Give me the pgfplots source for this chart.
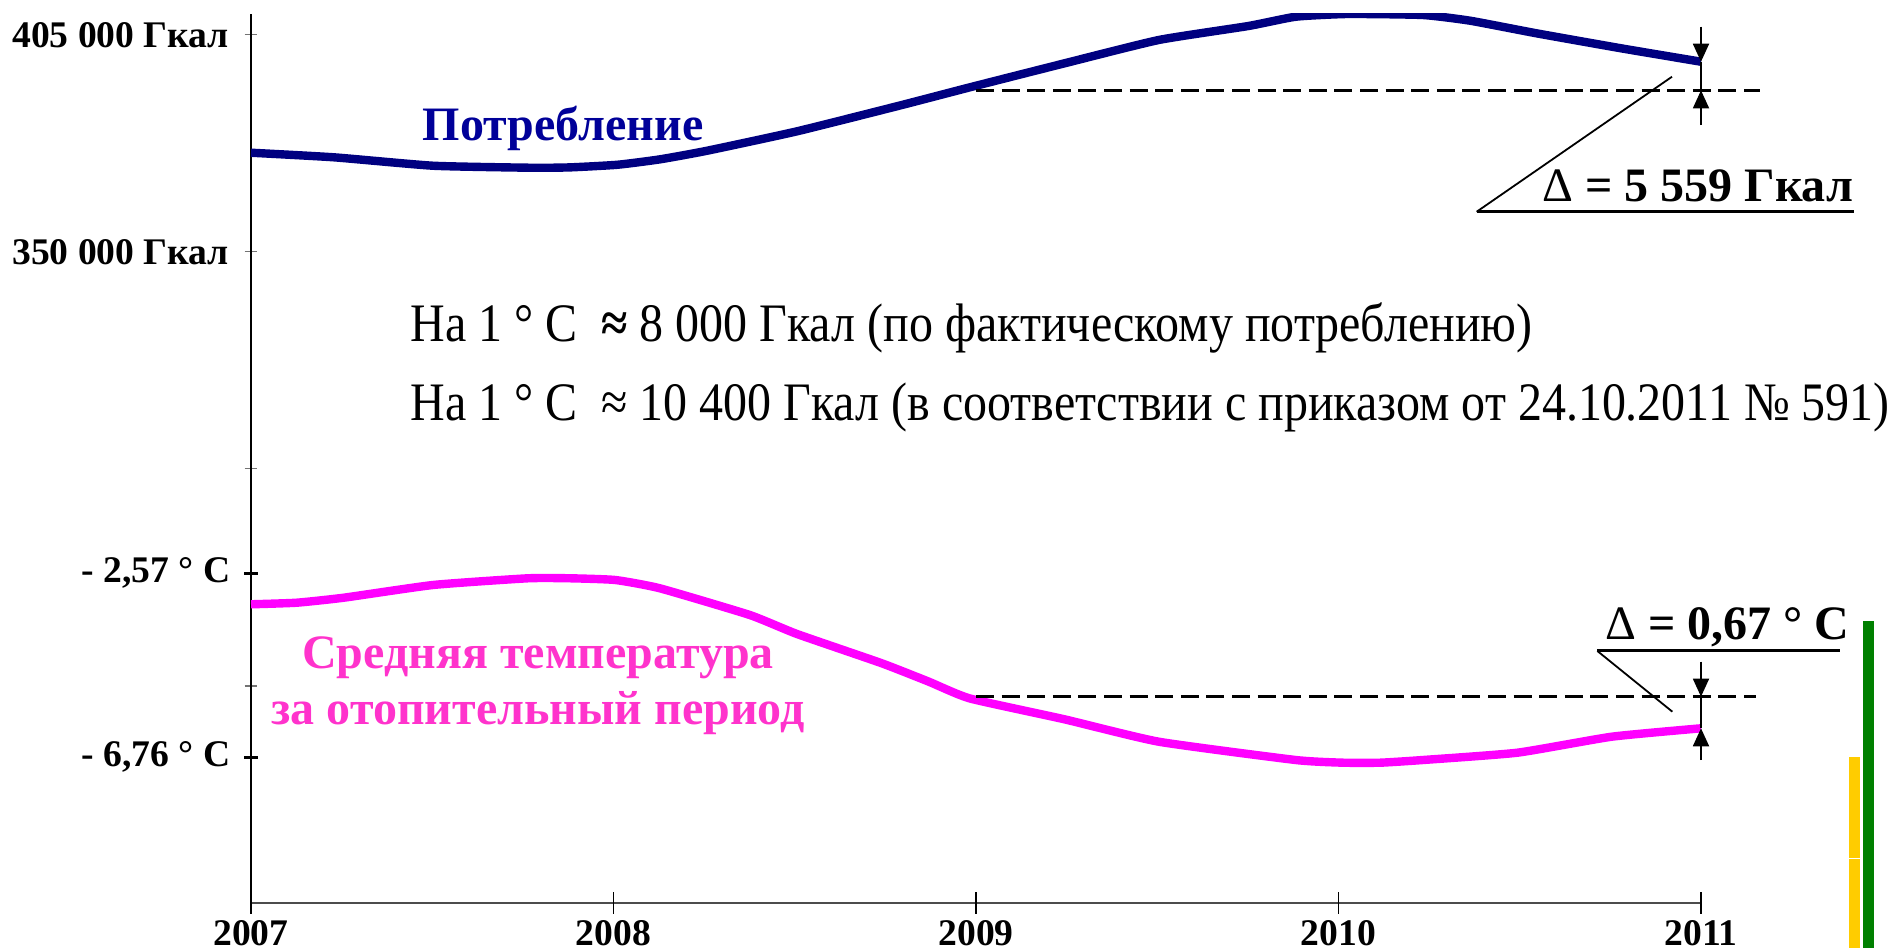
\documentclass[border=0pt]{standalone}
\usepackage{fontspec}
\setmainfont{Liberation Serif}
\newfontfamily\tallserif[FakeStretch=0.885]{Liberation Serif}
\usepackage{pgfplots}
\pgfplotsset{compat=1.18}
\usetikzlibrary{arrows.meta}
\definecolor{navyline}{HTML}{000080}
\definecolor{navytext}{HTML}{000099}
\definecolor{magline}{HTML}{FF00FF}
\definecolor{magtext}{HTML}{FF33CC}
\definecolor{barGreen}{HTML}{008000}
\definecolor{barYellow}{HTML}{FFCC00}
\newcommand{\tickfont}{\fontsize{18.8}{22}\selectfont\bfseries}
\newcommand{\bigfont}{\fontsize{24}{28}\selectfont}
\newcommand{\notefont}{\tallserif\fontsize{27.1}{31}\selectfont}
\pgfplotsset{base/.style={scale only axis, width=725pt, height=444.5pt,
  xmin=2007, xmax=2011, at={(0,0)}, anchor=south west}}
\tikzset{dimarrow/.style={line width=0.9pt, -{Triangle[length=9pt,width=8pt]}},
  refline/.style={line width=1.2pt, dash pattern=on 9pt off 3.8pt},
  leader/.style={line width=0.9pt}}
\pgfplotstableread{
x y
2007.000 375100
2007.230 373930
2007.503 371800
2007.777 371290
2007.881 371390
2008.011 372050
2008.128 373420
2008.258 375600
2008.506 380520
2008.792 387110
2008.983 391670
2009.244 397750
2009.504 403660
2009.751 407200
2009.882 409560
2010.025 410250
2010.233 409990
2010.363 408550
2010.546 405360
2010.780 401550
2011.000 398160
}\consumption
\pgfplotstableread{
x y
2007.000 -3.276
2007.126 -3.240
2007.256 -3.126
2007.503 -2.836
2007.764 -2.684
2007.881 -2.684
2008.005 -2.723
2008.128 -2.912
2008.376 -3.520
2008.506 -3.952
2008.740 -4.619
2008.870 -5.039
2008.983 -5.420
2009.244 -5.895
2009.504 -6.405
2009.882 -6.822
2010.012 -6.883
2010.116 -6.883
2010.233 -6.822
2010.494 -6.655
2010.754 -6.291
2011.000 -6.100
}\temperature
\begin{document}
\begin{tikzpicture}
\path[use as bounding box] (-125.5pt,-22.5pt) rectangle (826pt,451.5pt);
% consumption axis
\begin{axis}[base, ymin=185000, ymax=410250,
  axis x line=bottom, axis y line=left,
  x axis line style={-, draw=black!70, line width=0.7pt},
  y axis line style={-, draw=black, line width=0.6pt},
  xtick=\empty,
  ytick={240000,295000,350000,405000},
  yticklabels={{}, {}, {350 000 Гкал}, {405 000 Гкал}},
  tick align=center, major tick length=6.5pt,
  ytick style={draw=black!55, line width=0.6pt},
  yticklabel style={font=\tickfont, anchor=east, inner sep=0pt, xshift=-7.5pt},
  clip mode=individual]
\addplot[navyline, line width=4.2pt, smooth, tension=0.3, line join=round] table {\consumption};
\draw[refline] (axis cs:2009,390900) -- (axis cs:2011.163,390900);
\draw[line width=1.3pt] (axis cs:2011,390900) -- (axis cs:2011,398160);
\draw[dimarrow] (axis cs:2011,407030) -- (axis cs:2011,398160);
\draw[dimarrow] (axis cs:2011,382110) -- (axis cs:2011,390900);
\draw[leader] (axis cs:2010.920,394355) -- (axis cs:2010.381,360137);
\draw[line width=1.5pt] (axis cs:2010.381,360137) -- (axis cs:2011.422,360137);
\node[anchor=base west, inner sep=0pt, font=\bigfont\bfseries] at (axis cs:2010.561,362850) {{\mdseries Δ} = 5 559 Гкал};
\node[anchor=base, inner sep=0pt, font=\bigfont\bfseries, text=navytext] at (axis cs:2007.861,378311) {Потребление};
\node[anchor=base west, inner sep=0pt, font=\notefont] at (axis cs:2007.4386,327365) {На 1 ° С\ \ \textbf{≈} 8 000 Гкал (по фактическому потреблению)};
\node[anchor=base west, inner sep=0pt, font=\notefont] at (axis cs:2007.4386,307342) {На 1 ° С\ \ ≈ 10 400 Гкал (в соответствии с приказом от 24.10.2011 № 591)};
\end{axis}
% temperature axis
\begin{axis}[base, ymin=-10.078, ymax=10.166,
  axis x line=none, axis y line=left,
  y axis line style={-, draw=none},
  xtick=\empty,
  ytick={-6.76,-2.57},
  yticklabels={{- 6,76 ° C}, {- 2,57 ° C}},
  tick align=center, major tick length=7pt,
  ytick style={draw=black, line width=1.5pt},
  yticklabel style={font=\tickfont, anchor=east, inner sep=0pt, xshift=-6.5pt},
  clip=false]
\addplot[magline, line width=4.2pt, smooth, tension=0.3, line join=round] table {\temperature};
\addplot[barGreen, line width=5.5pt] coordinates {(2011.4629,-11.3) (2011.4629,-3.656)};
\addplot[barYellow, line width=5.35pt] coordinates {(2011.4231,-11.3) (2011.4231,-9.077)};
\addplot[barYellow, line width=5.35pt] coordinates {(2011.4231,-9.043) (2011.4231,-6.753)};
\draw[refline] (axis cs:2009,-5.380) -- (axis cs:2011.151,-5.380);
\draw[line width=1.3pt] (axis cs:2011,-5.380) -- (axis cs:2011,-6.100);
\draw[dimarrow] (axis cs:2011,-4.583) -- (axis cs:2011,-5.380);
\draw[dimarrow] (axis cs:2011,-6.822) -- (axis cs:2011,-6.100);
\draw[leader] (axis cs:2010.921,-5.722) -- (axis cs:2010.714,-4.339);
\draw[line width=1.5pt] (axis cs:2010.714,-4.339) -- (axis cs:2011.383,-4.339);
\node[anchor=base west, inner sep=0pt, font=\bigfont\bfseries] at (axis cs:2010.735,-4.089) {{\mdseries Δ} = 0,67 ° С};
\node[anchor=base, inner sep=0pt, font=\bigfont\bfseries, text=magtext] at (axis cs:2007.792,-4.733) {Средняя температура};
\node[anchor=base, inner sep=0pt, font=\bigfont\bfseries, text=magtext] at (axis cs:2007.792,-6.024) {за отопительный период};
\end{axis}
% x ticks axis
\begin{axis}[base, ymin=0, ymax=1,
  axis x line=bottom, axis y line=none,
  x axis line style={-, draw=none},
  ytick=\empty,
  xtick={2007,2008,2009,2010,2011},
  xticklabels={2007,2008,2009,2010,2011},
  tick align=center, major tick length=11pt,
  xtick style={draw=black, line width=0.6pt},
  xticklabel style={font=\tickfont, anchor=north, inner sep=0pt, yshift=-3pt}]
\end{axis}
\end{tikzpicture}
\end{document}
